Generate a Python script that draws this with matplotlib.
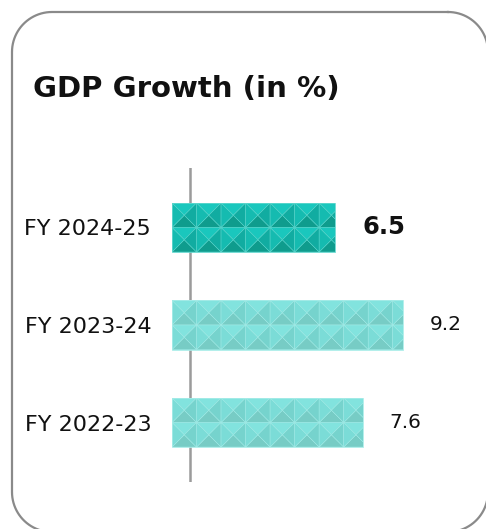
import matplotlib
matplotlib.use("Agg")
import numpy as np
import matplotlib.pyplot as plt
from matplotlib.patches import Polygon

# Data
categories = ["FY 2024-25", "FY 2023-24", "FY 2022-23"]
values = [6.5, 9.2, 7.6]
value_labels = ["6.5", "9.2", "7.6"]
highlight = [True, False, False]

plt.rcParams["font.family"] = ["DejaVu Sans"]

W, H, DPI = 486, 529, 100
fig = plt.figure(figsize=(W / DPI, H / DPI), dpi=DPI)
fig.patch.set_facecolor("white")

# Background layer in pixel units for the rounded card frame
bg = fig.add_axes([0, 0, 1, 1], zorder=0)
bg.set_xlim(0, W)
bg.set_ylim(H, 0)
bg.axis("off")


def rounded_rect(x0, y0, x1, y1, r, n=24):
    pts = []
    corners = [(x1 - r, y0 + r, -90, 0), (x1 - r, y1 - r, 0, 90),
               (x0 + r, y1 - r, 90, 180), (x0 + r, y0 + r, 180, 270)]
    for cx, cy, a0, a1 in corners:
        t = np.radians(np.linspace(a0, a1, n))
        pts.extend(zip(cx + r * np.cos(t), cy + r * np.sin(t)))
    pts.append(pts[0])
    return np.array(pts)


frame_pts = rounded_rect(12, 12, 488, 532, 40)
bg.plot(frame_pts[:, 0], frame_pts[:, 1], color="#8a8a8a", linewidth=1.6,
        clip_on=False, solid_joinstyle="round")

fig.text(33 / W, 1 - 97 / H, "GDP Growth (in %)", fontsize=21,
         fontweight="bold", color="#111111", ha="left", va="baseline")

ax_left, ax_width = 172 / W, 300 / W
ax_bottom, ax_height = 1 - 482 / H, 314 / H
ax = fig.add_axes([ax_left, ax_bottom, ax_width, ax_height], zorder=1)
xmax = 300 / 25.1
ax.set_xlim(0, xmax)
ax.set_ylim(2.61, -0.61)

for s in ax.spines.values():
    s.set_visible(False)
ax.set_xticks([])
ypos = list(range(len(categories)))
ax.set_yticks(ypos)
ax.set_yticklabels(categories, fontsize=16, color="#111111")
ax.tick_params(axis="y", length=0, pad=15)
ax.patch.set_alpha(0)

# Decorative vertical axis line
ax.axvline(18 / 25.1, color="#9b9b9b", linewidth=1.8, zorder=1)

bar_h = 0.503
bars = ax.barh(ypos, values, height=bar_h, color="#7fdcd6", zorder=2,
               linewidth=0)

dark = {"top": "#1ac7bd", "left": "#15bbb0", "right": "#11aca1",
        "bottom": "#0f9c8d", "edge": "#5fd6cd"}
light = {"top": "#82e3de", "left": "#7bdcd7", "right": "#76d3cd",
         "bottom": "#77ccc5", "edge": "#a6ece8"}

px_per_x = W * ax_width / xmax
px_per_y = H * ax_height / (2.61 + 0.61)

for bar, hi in zip(bars, highlight):
    pal = dark if hi else light
    x0, y0 = bar.get_x(), bar.get_y()
    bw, bh = bar.get_width(), bar.get_height()
    th = bh / 2
    tw = th * px_per_y / px_per_x
    nx = int(bw / tw) + 1
    for r in range(2):
        ya = y0 + r * th
        yb = ya + th
        for c in range(nx):
            xa = x0 + c * tw
            xb = xa + tw
            cx, cy = (xa + xb) / 2, (ya + yb) / 2
            tris = {
                "top": [(xa, ya), (xb, ya), (cx, cy)],
                "bottom": [(xa, yb), (xb, yb), (cx, cy)],
                "left": [(xa, ya), (xa, yb), (cx, cy)],
                "right": [(xb, ya), (xb, yb), (cx, cy)],
            }
            for k, pts in tris.items():
                p = Polygon(pts, closed=True, facecolor=pal[k],
                            edgecolor=pal["edge"], linewidth=0.35,
                            zorder=3)
                ax.add_patch(p)
                p.set_clip_path(bar)
    frame = plt.Rectangle((x0, y0), bw, bh, facecolor="none",
                          edgecolor=pal["edge"], linewidth=0.6, zorder=4)
    ax.add_patch(frame)

for y, v, lab, hi in zip(ypos, values, value_labels, highlight):
    ax.annotate(lab, xy=(v, y), xytext=(19.5, 0), textcoords="offset points",
                ha="left", va="center",
                fontsize=17.5 if hi else 14.5,
                fontweight="bold" if hi else "normal",
                color="#111111")

fig.savefig("out.png", dpi=DPI)
